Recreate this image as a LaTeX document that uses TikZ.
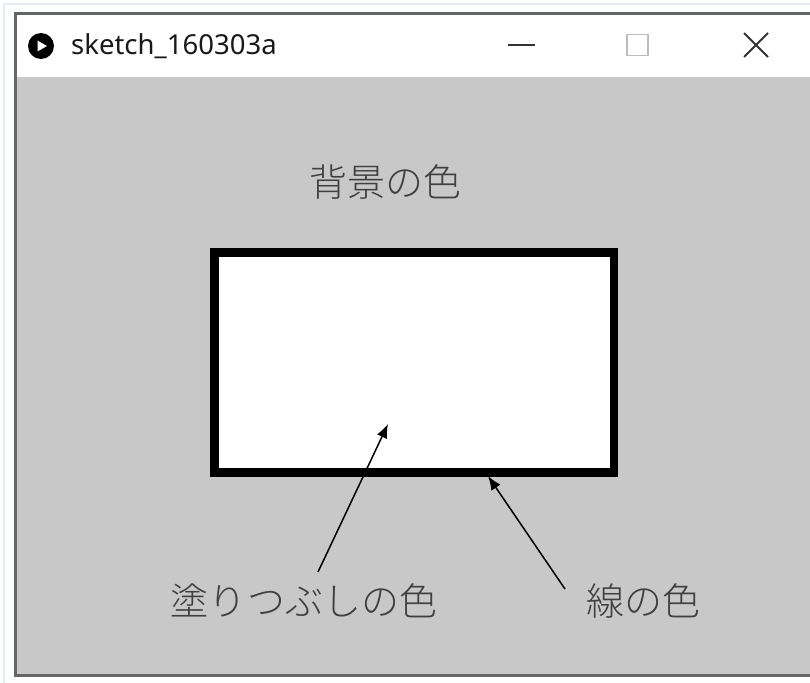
\documentclass[tikz,border=0pt]{standalone}
\usepackage{fontspec}
\newfontfamily\jpfont{Noto Sans CJK JP Light}
\newfontfamily\uifont{Noto Sans}
\usetikzlibrary{arrows.meta}
\definecolor{outbg}{HTML}{FDFEFE}
\definecolor{outline}{HTML}{E4F0F0}
\definecolor{canvas}{HTML}{C8C8C8}
\definecolor{framegray}{HTML}{666666}
\definecolor{labelgray}{HTML}{404040}
\definecolor{maxgray}{HTML}{BDBDBD}
\begin{document}
\begin{tikzpicture}[x=1pt,y=-1pt,
  jplabel/.style={font=\jpfont\fontsize{38}{38}\selectfont, text=labelgray, inner sep=0},
  pointer/.style={line width=1.5pt, -{Latex[length=14pt,width=11pt]}},
  winctl/.style={line width=1.8pt, draw=black!80}]
\useasboundingbox (0,0) rectangle (810,682);
\fill[outbg] (0,0) rectangle (810,682);
\draw[outline, line width=1.2pt] (4,690) -- (4,4) -- (815,4);
\fill[white] (15,14) rectangle (812,77);
\fill[canvas] (15,77) rectangle (812,675);
\draw[framegray, line width=2.5pt] (15.5,13.5) rectangle (815,675.5);
% title bar
\node[circle, fill=black, minimum size=26pt, inner sep=0] (icon) at (41,46) {};
\fill[white] (37.5,40.5) -- (47,46) -- (37.5,51.5) -- cycle;
\node[anchor=west, inner sep=0, font=\uifont\fontsize{27.5}{27.5}\selectfont, text=black!90] (title) at (71,46) {sketch\_160303a};
\coordinate (minL) at (508,45); \coordinate (minR) at (535,45);
\draw[winctl] (minL) -- (minR);
\node[draw=maxgray, line width=1.5pt, minimum size=21pt, inner sep=0] (maxbtn) at (637.5,45) {};
\coordinate (xa) at (744,33); \coordinate (xb) at (768,57);
\coordinate (xc) at (768,33); \coordinate (xd) at (744,57);
\draw[winctl] (xa) -- (xb); \draw[winctl] (xc) -- (xd);
% content
\node[jplabel] (bglabel) at (385,182) {背景の色};
\node[draw=black, fill=white, line width=8.5pt, minimum width=399.5pt, minimum height=220pt, inner sep=0, outer sep=0] (box) at (414.25,362.5) {};
\node[jplabel] (filllabel) at (304,601) {塗りつぶしの色};
\node[jplabel] (linelabel) at (643,601) {線の色};
\coordinate (fillstart) at (318,572);
\coordinate (filltip) at (388,424);
\coordinate (linestart) at (565,589);
\coordinate (linetip) at (488,476);
\draw[pointer] (fillstart) -- (filltip);
\draw[pointer] (linestart) -- (linetip);
\end{tikzpicture}
\end{document}
